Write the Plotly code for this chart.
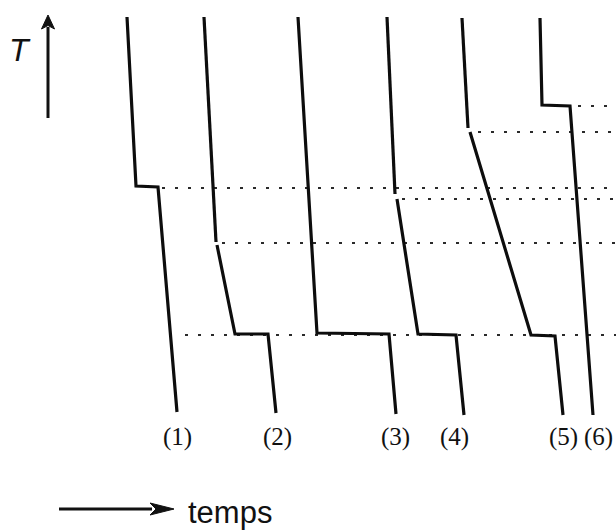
import math
import plotly.graph_objects as go

# Cooling curves T(t) for six compositions; x = time, y = temperature (arbitrary units)
W, H = 616, 531

curve_time = {
    "(1)": [127, 136, 158, 177],
    "(2)": [204, 216, None, 217, 235, 268, 276],
    "(3)": [298, 317, 389, 396],
    "(4)": [387, 395, None, 397, 418, 456, 464],
    "(5)": [462, 468, None, 470, 531, 555, 563],
    "(6)": [540, 542, 570, 593],
}
curve_temp = {
    "(1)": [514, 345, 344, 119],
    "(2)": [514, 289, None, 286, 197, 197, 118],
    "(3)": [514, 198, 197, 117],
    "(4)": [514, 337, None, 332, 197, 196, 116],
    "(5)": [513, 403, None, 399, 196, 195, 116],
    "(6)": [513, 426, 425, 116],
}

# Characteristic temperatures (arrests and slope changes) drawn as dotted guides
guide_temp = [425, 399, 343, 332, 288, 196]
guide_start = [578, 478, 162, 402, 222, 185]

label_names = ["(1)", "(2)", "(3)", "(4)", "(5)", "(6)"]
label_time = [177, 277, 395, 454, 563, 598]
label_temp = 94

fig = go.Figure()

for T, x0 in zip(guide_temp, guide_start):
    fig.add_trace(go.Scatter(
        x=[x0, W], y=[T, T], mode="lines",
        line=dict(color="#2a2a2a", width=2, dash="3px,10px"),
        hoverinfo="skip", showlegend=False,
    ))

for name in label_names:
    fig.add_trace(go.Scatter(
        x=curve_time[name], y=curve_temp[name], mode="lines",
        line=dict(color="#0d0d0d", width=3.2),
        connectgaps=False, hoverinfo="skip", showlegend=False, name=name,
    ))

for name, t in zip(label_names, label_time):
    fig.add_annotation(
        x=t, y=label_temp, text=name, showarrow=False,
        font=dict(family="Liberation Serif", size=25, color="#111"),
        xanchor="center", yanchor="middle",
    )


def arrow(x0, y0, x1, y1, head_len, head_w):
    """Shaft plus filled triangular head pointing from (x0,y0) to (x1,y1)."""
    dx, dy = x1 - x0, y1 - y0
    L = math.hypot(dx, dy)
    ux, uy = dx / L, dy / L
    bx, by = x1 - ux * head_len, y1 - uy * head_len
    px, py = -uy * head_w / 2, ux * head_w / 2
    fig.add_shape(type="line", x0=x0, y0=y0, x1=bx + ux * 2, y1=by + uy * 2,
                  line=dict(color="#111", width=3))
    fig.add_shape(
        type="path",
        path=f"M{x1},{y1} L{bx + px},{by + py} L{bx + ux * head_len * 0.25},{by + uy * head_len * 0.25} L{bx - px},{by - py} Z",
        fillcolor="#111", line=dict(color="#111", width=1),
    )


# Temperature axis arrow and time arrow
arrow(48, H - 118, 48, H - 15, 14, 13)
arrow(59, H - 509, 174, H - 509, 24, 12)

fig.add_annotation(x=20, y=H - 50, text="<i>T</i>", showarrow=False,
                   font=dict(family="Liberation Sans", size=32, color="#111"),
                   xanchor="center", yanchor="middle")
fig.add_annotation(x=186, y=H - 512, text="temps", showarrow=False,
                   font=dict(family="Liberation Sans", size=31, color="#111"),
                   xanchor="left", yanchor="middle")

fig.update_layout(
    width=W, height=H,
    margin=dict(l=0, r=0, t=0, b=0),
    paper_bgcolor="white", plot_bgcolor="white",
    xaxis=dict(range=[0, W], visible=False, fixedrange=True),
    yaxis=dict(range=[0, H], visible=False, fixedrange=True),
    showlegend=False,
)

fig.write_html("out.html")
